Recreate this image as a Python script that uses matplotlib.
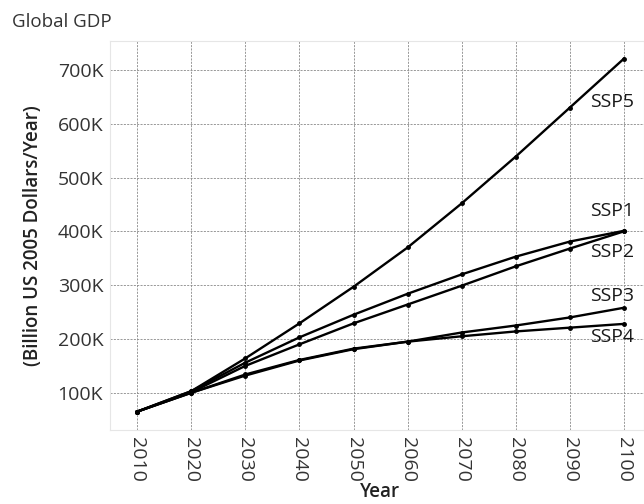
import matplotlib.pyplot as plt

plt.rcParams['font.family'] = ['Open Sans', 'DejaVu Sans']

years = [2010, 2020, 2030, 2040, 2050, 2060, 2070, 2080, 2090, 2100]
ssp1 = [65, 103, 156, 203, 245, 284, 320, 353, 381, 401]
ssp2 = [65, 101, 150, 190, 229, 264, 299, 335, 368, 400]
ssp3 = [65, 100, 134, 161, 182, 195, 212, 225, 240, 258]
ssp4 = [65, 100, 132, 160, 181, 195, 205, 214, 221, 228]
ssp5 = [65, 103, 164, 229, 297, 370, 452, 539, 630, 721]

series = {'SSP1': ssp1, 'SSP2': ssp2, 'SSP3': ssp3, 'SSP4': ssp4, 'SSP5': ssp5}
label_y = {'SSP1': 437, 'SSP2': 362, 'SSP3': 279, 'SSP4': 204, 'SSP5': 641}

fig = plt.figure(figsize=(6.44, 5.04), dpi=100)
ax = fig.add_axes([0.171, 0.147, 0.829, 0.772])

for name, vals in series.items():
    ax.plot(years, [v * 1000 for v in vals], color='black', lw=1.7,
            marker='o', ms=2.5, zorder=3)
    ax.text(2097.8, label_y[name] * 1000, name, ha='center', va='center',
            fontsize=14, color='#1a1a1a')

ax.set_xlim(2005, 2103.7)
ax.set_ylim(31000, 754000)
ax.set_xticks(years)
ax.set_xticklabels([str(y) for y in years], rotation=-90, fontsize=14,
                   color='#333333')
yt = [100000, 200000, 300000, 400000, 500000, 600000, 700000]
ax.set_yticks(yt)
ax.set_yticklabels(['%dK' % (v // 1000) for v in yt], fontsize=14,
                   color='#333333')
ax.tick_params(length=0, pad=5)
ax.grid(True, linestyle=(0, (2.5, 1.5)), color='#888888', lw=0.6)
for s in ax.spines.values():
    s.set_color('#e6e6e6')

ax.set_ylabel('(Billion US 2005 Dollars/Year)', fontsize=13.5,
              fontweight='semibold', color='#222222')
ax.yaxis.set_label_coords(-0.126, 0.5)
fig.text(0.59, 0.003, 'Year', fontsize=13.5, fontweight='semibold',
         color='#222222', ha='center', va='bottom')
fig.text(0.019, 0.956, 'Global GDP', fontsize=13.5, color='#333333',
         va='center')

fig.savefig('out.png', dpi=100)
